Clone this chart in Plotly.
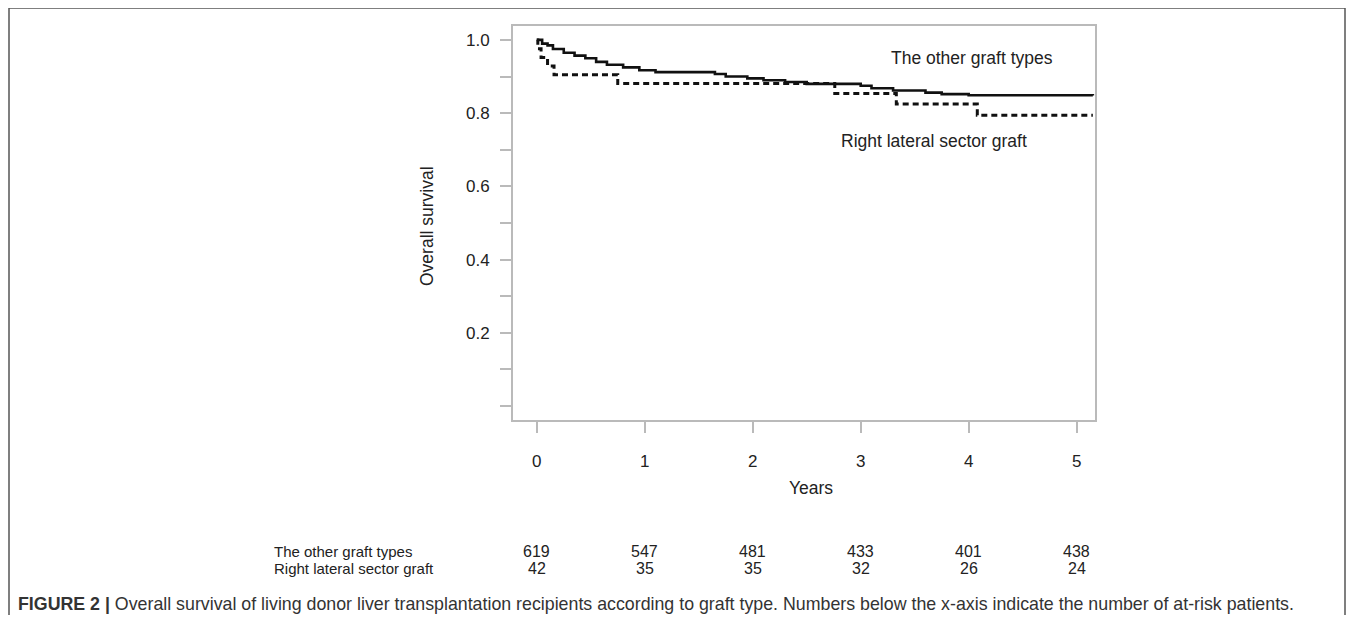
import plotly.graph_objects as go

# Kaplan-Meier step data (years, survival)
other_t = [0, 0.05, 0.10, 0.15, 0.25, 0.35, 0.45, 0.55, 0.65, 0.80, 0.95, 1.10, 1.65, 1.75, 1.95, 2.10, 2.30, 2.50, 3.00, 3.10, 3.30, 3.60, 3.75, 4.00, 5.15]
other_s = [1.0, 0.99, 0.985, 0.975, 0.965, 0.957, 0.95, 0.94, 0.932, 0.925, 0.917, 0.912, 0.907, 0.90, 0.895, 0.89, 0.885, 0.88, 0.875, 0.868, 0.862, 0.856, 0.852, 0.849, 0.848]

rlsg_t = [0, 0.01, 0.04, 0.10, 0.16, 0.75, 2.76, 3.33, 4.08, 5.15]
rlsg_s = [1.0, 0.976, 0.952, 0.929, 0.905, 0.881, 0.854, 0.825, 0.794, 0.794]

x_ticks = [0, 1, 2, 3, 4, 5]
y_ticks = [0.2, 0.4, 0.6, 0.8, 1.0]
y_minor = [0.0, 0.1, 0.3, 0.5, 0.7, 0.9]

risk_groups = ["The other graft types", "Right lateral sector graft"]
risk_other = [619, 547, 481, 433, 401, 438]
risk_rlsg = [42, 35, 35, 32, 26, 24]

caption_bold = "FIGURE 2 |"
caption_text = (" Overall survival of living donor liver transplantation recipients according to graft type. "
                "Numbers below the x-axis indicate the number of at-risk patients.")

OFF = 8  # browser body margin
W, H = 1355 - 2 * OFF, 623 - 2 * OFF
L, R, T, B = 513 - OFF, 1095 - OFF, 26 - OFF, 420 - OFF
PW, PH = R - L, B - T


def px(xp):
    return (xp - OFF - L) / PW


def py(yp):
    return (B - (yp - OFF)) / PH


FONT = "Liberation Sans, Arial, sans-serif"
AX = "#bababa"
TXT = "#222222"

fig = go.Figure()
fig.add_trace(go.Scatter(x=other_t, y=other_s, mode="lines", line_shape="hv",
                         line=dict(color="#111111", width=2.6), showlegend=False,
                         name=risk_groups[0]))
fig.add_trace(go.Scatter(x=rlsg_t, y=rlsg_s, mode="lines", line_shape="hv",
                         line=dict(color="#111111", width=3, dash="6px,4px"),
                         showlegend=False, name=risk_groups[1]))

fig.update_xaxes(range=[-0.22, 5.17], tickvals=x_ticks, ticktext=[str(v) for v in x_ticks],
                 showgrid=False, zeroline=False, showline=True, linecolor=AX, linewidth=2,
                 mirror=True, ticks="outside", ticklen=11, tickcolor=AX, tickwidth=1.5,
                 ticklabelstandoff=14,
                 tickfont=dict(family=FONT, size=17, color=TXT))
fig.update_yaxes(range=[-0.038, 1.038], tickvals=y_ticks, ticktext=["%.1f" % v for v in y_ticks],
                 showgrid=False, zeroline=False, showline=True, linecolor=AX, linewidth=2,
                 mirror=True, ticks="outside", ticklen=11, tickcolor=AX, tickwidth=1.5,
                 ticklabelstandoff=7,
                 tickfont=dict(family=FONT, size=17, color=TXT),
                 minor=dict(tickvals=y_minor, ticks="outside", ticklen=11, tickcolor=AX, tickwidth=1.5))


def A(x, y, text, size=15, xanchor="center", **kw):
    return dict(x=px(x), y=py(y), xref="paper", yref="paper", text=text, showarrow=False,
                xanchor=xanchor, yanchor="middle", font=dict(family=FONT, size=size, color=TXT), **kw)


ann = []
ann.append(A(811, 488, "Years", 17.5))
ann.append(A(427, 226, "Overall survival", 17.5, textangle=-90))
ann.append(A(972, 58, "The other graft types", 17.5))
ann.append(A(934, 141, "Right lateral sector graft", 17.5))
for i, (g, vals) in enumerate(zip(risk_groups, [risk_other, risk_rlsg])):
    yy = 551 + 17 * i
    ann.append(A(272, yy, g, 15, xanchor="left"))
    for xv, v in zip(x_ticks, vals):
        ann.append(dict(x=xv, y=py(yy), xref="x", yref="paper", text=str(v), showarrow=False,
                        xanchor="center", yanchor="middle",
                        font=dict(family=FONT, size=16, color=TXT)))
ann.append(dict(x=px(16), y=py(604), xref="paper", yref="paper", xanchor="left", yanchor="middle",
                text="<b>" + caption_bold + "</b>" + caption_text, showarrow=False,
                font=dict(family=FONT, size=17.8, color="#333")))

BC = "#555555"
shapes = [
    dict(type="line", xref="paper", yref="paper", x0=px(9), x1=px(9), y0=py(8), y1=py(640),
         line=dict(color=BC, width=1.5)),
    dict(type="line", xref="paper", yref="paper", x0=px(9), x1=px(1345), y0=py(8), y1=py(8),
         line=dict(color=BC, width=1.5)),
    dict(type="line", xref="paper", yref="paper", x0=px(1345), x1=px(1345), y0=py(8), y1=py(640),
         line=dict(color=BC, width=1.5)),
]

fig.update_layout(width=W, height=H, margin=dict(l=L, r=W - R, t=T, b=H - B),
                  paper_bgcolor="white", plot_bgcolor="white", annotations=ann, shapes=shapes,
                  font=dict(family=FONT))

fig.write_html("out.html")
